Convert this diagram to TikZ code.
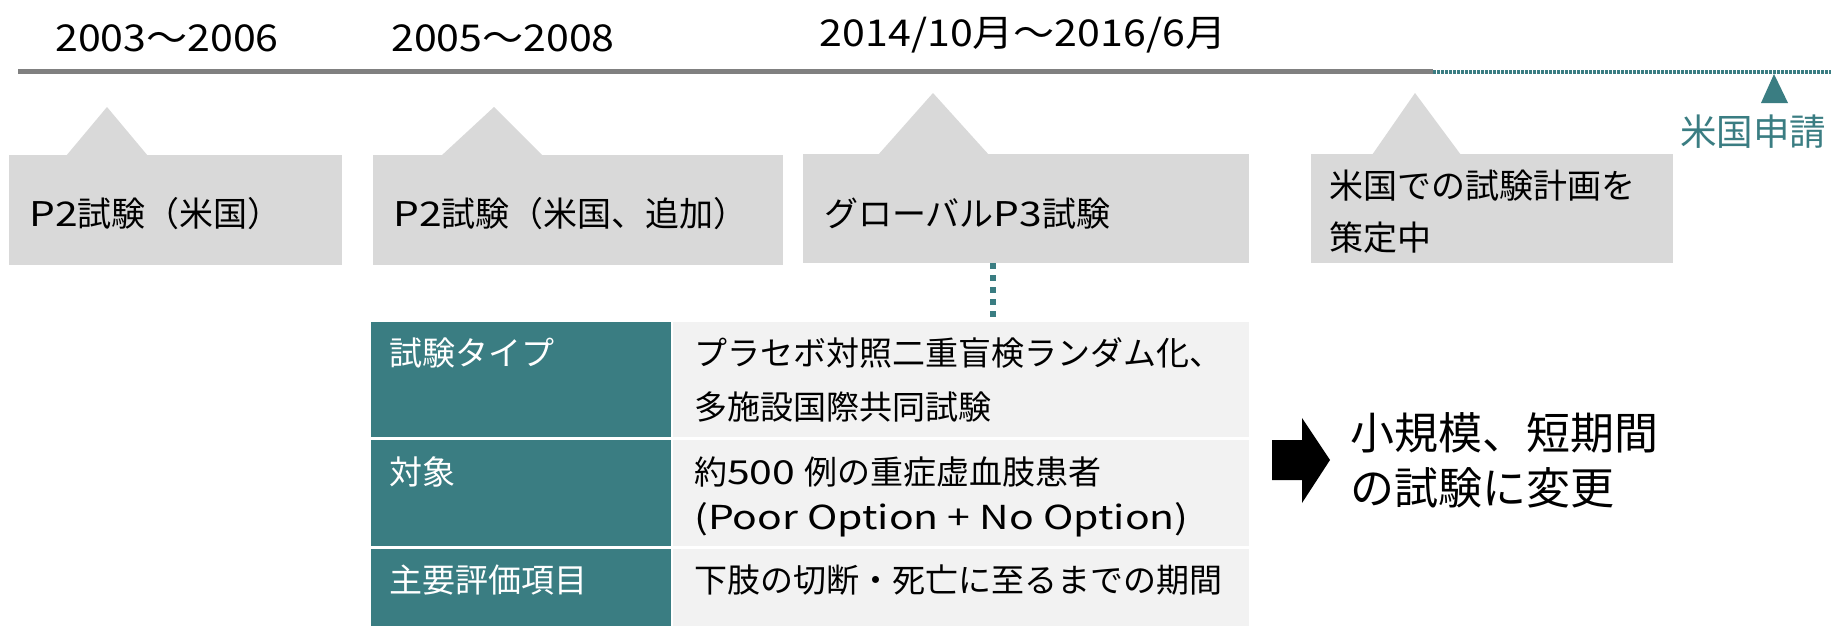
\documentclass[tikz,border=0pt]{standalone}
\usepackage{fontspec}
\setmainfont{Noto Sans CJK JP}
\newfontfamily\widedate[FakeStretch=1.11]{Noto Sans CJK JP}
\newfontfamily\widelat[FakeStretch=1.2]{Noto Sans CJK JP}
\newfontfamily\widerlat[FakeStretch=1.24]{Noto Sans CJK JP}
\definecolor{teal1}{HTML}{3A7D82}
\definecolor{boxgray}{HTML}{D9D9D9}
\definecolor{cellgray}{HTML}{F2F2F2}
\definecolor{linegray}{HTML}{808080}
\begin{document}
\begin{tikzpicture}[x=1pt,y=-1pt,
  txt/.style={inner sep=0pt,anchor=base west,font=\fontsize{34pt}{40pt}\selectfont},
  datelbl/.style={inner sep=0pt,anchor=base,font=\fontsize{37pt}{44pt}\widedate},
  tcell/.style={inner sep=0pt,anchor=base west,font=\fontsize{33pt}{40pt}\selectfont},
  wcell/.style={tcell,text=white},
  bigtxt/.style={inner sep=0pt,anchor=base west,font=\fontsize{44pt}{52pt}\selectfont},
  callout/.style={fill=boxgray,draw=none,inner sep=0pt,anchor=north west},
  tealcell/.style={fill=teal1,draw=none,inner sep=0pt,anchor=north west},
  graycell/.style={fill=cellgray,draw=none,inner sep=0pt,anchor=north west},
  mainline/.style={draw=linegray,line width=5pt},
  hdots/.style={draw=teal1,line width=3.5pt,dash pattern=on 2.7pt off 1.3pt},
  vdots/.style={draw=teal1,line width=6pt,dash pattern=on 6pt off 6pt}
]
\fill[white] (0,0) rectangle (1831,626);
\useasboundingbox (0,0) rectangle (1831,626);

% timeline
\coordinate (tl0) at (18,72);
\coordinate (tl1) at (1433,72);
\coordinate (tl2) at (1831,72);
\draw[mainline] (tl0) -- (tl1);
\draw[hdots] (tl1) -- (tl2);

% dates
\node[datelbl] (d1) at (167,52) {2003～2006};
\node[datelbl] (d2) at (503,52) {2005～2008};
\node[datelbl] (d3) at (1023,47) {2014/10月～2016/6月};

% US filing marker
\fill[teal1] (1761,103) -- (1774,74) -- (1788,103) -- cycle;
\node[inner sep=0pt,anchor=base west,text=teal1,font=\fontsize{36.5pt}{44pt}\selectfont] (filing) at (1680,145) {米国申請};

% callout boxes
\node[callout,minimum width=333pt,minimum height=110pt] (box1) at (9,155) {};
\fill[boxgray] (66,156) -- (107,107) -- (148,156) -- cycle;
\node[txt] (t1) at (29,226) {{\widelat P2}試験（米国）};

\node[callout,minimum width=410pt,minimum height=110pt] (box2) at (373,155) {};
\fill[boxgray] (441,156) -- (494,107) -- (543,156) -- cycle;
\node[txt] (t2) at (393,226) {{\widelat P2}試験（米国、追加）};

\node[callout,minimum width=446pt,minimum height=109pt] (box3) at (803,154) {};
\fill[boxgray] (878,155) -- (933,93) -- (989,155) -- cycle;
\node[txt] (t3) at (824,226) {グローバル{\widelat P3}試験};

\node[callout,minimum width=362pt,minimum height=109pt] (box4) at (1311,154) {};
\fill[boxgray] (1372,155) -- (1415,93) -- (1461,155) -- cycle;
\node[txt] (t4a) at (1329,198) {米国での試験計画を};
\node[txt] (t4b) at (1329,250) {策定中};

% table
\node[tealcell,minimum width=300pt,minimum height=115pt] (r1l) at (371,322) {};
\node[graycell,minimum width=576pt,minimum height=115pt] (r1r) at (673,322) {};
\node[tealcell,minimum width=300pt,minimum height=106pt] (r2l) at (371,440) {};
\node[graycell,minimum width=576pt,minimum height=106pt] (r2r) at (673,440) {};
\node[tealcell,minimum width=300pt,minimum height=77pt] (r3l) at (371,549) {};
\node[graycell,minimum width=576pt,minimum height=77pt] (r3r) at (673,549) {};

\node[wcell] (c1l) at (389,365.5) {試験タイプ};
\node[tcell] (c1a) at (694,365.5) {プラセボ対照二重盲検ランダム化、};
\node[tcell] (c1b) at (694,419) {多施設国際共同試験};
\node[wcell] (c2l) at (389,484.5) {対象};
\node[tcell] (c2a) at (694,484.5) {約{\widerlat 500 }例の重症虚血肢患者};
\node[tcell] (c2b) at (694,529.5) {\widerlat (Poor Option + No Option)};
\node[wcell] (c3l) at (389,592.5) {主要評価項目};
\node[tcell] (c3a) at (694,592.5) {下肢の切断・死亡に至るまでの期間};

% dotted connector from global P3 box to table
\coordinate (dtop) at (box3.south -| 993,0);
\coordinate (dbot) at (r1r.north -| 993,0);
\draw[vdots] (dtop) -- (dbot);

% block arrow
\fill[black] (1272,440) -- (1302,440) -- (1302,418) -- (1330,460) -- (1302,503) -- (1302,480) -- (1272,480) -- cycle;
\node[bigtxt] (res1) at (1350,449) {小規模、短期間};
\node[bigtxt] (res2) at (1350,504) {の試験に変更};
\end{tikzpicture}
\end{document}
